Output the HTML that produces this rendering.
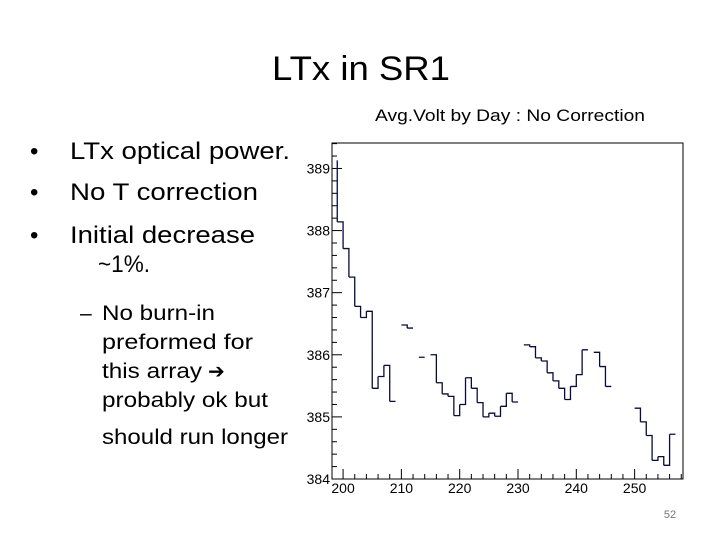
<!DOCTYPE html>
<html><head><meta charset="utf-8"><style>
html,body{margin:0;padding:0;background:#fff;}
svg{display:block;font-family:"Liberation Sans",sans-serif;}
</style></head><body>
<svg id="s" width="720" height="540" viewBox="0 0 720 540" xmlns="http://www.w3.org/2000/svg">
<text x="272" y="80" font-size="34" textLength="178" lengthAdjust="spacingAndGlyphs" fill="#000">LTx in SR1</text>
<g font-size="24" fill="#000">
<text x="30" y="159">•</text>
<text x="70" y="159" textLength="220" lengthAdjust="spacingAndGlyphs">LTx optical power.</text>
<text x="30" y="200">•</text>
<text x="70" y="200" textLength="188" lengthAdjust="spacingAndGlyphs">No T correction</text>
<text x="30" y="243">•</text>
<text x="70" y="243" textLength="185" lengthAdjust="spacingAndGlyphs">Initial decrease</text>
<text x="98" y="272" textLength="52" lengthAdjust="spacingAndGlyphs">~1%.</text>
</g>
<g font-size="21" fill="#000">
<text x="80" y="320">–</text>
<text x="102" y="320" textLength="113" lengthAdjust="spacingAndGlyphs">No burn-in</text>
<text x="102" y="349" textLength="151" lengthAdjust="spacingAndGlyphs">preformed for</text>
<text x="102" y="378"><tspan textLength="100" lengthAdjust="spacingAndGlyphs">this array</tspan><tspan font-family="DejaVu Sans" font-size="20" dx="6">➔</tspan></text>
<text x="102" y="407" textLength="166" lengthAdjust="spacingAndGlyphs">probably ok but</text>
<text x="102" y="444" textLength="186" lengthAdjust="spacingAndGlyphs">should run longer</text>
</g>
<text x="670" y="518" font-size="11" fill="#777" text-anchor="middle">52</text>
<text x="375" y="121" font-size="17" textLength="270" lengthAdjust="spacingAndGlyphs" fill="#000">Avg.Volt by Day : No Correction</text>
<g id="chart"></g>
</svg>
<script>
const days = [199,200,201,202,203,204,205,206,207,208,209,210,211,212,213,214,215,216,217,218,219,220,221,222,223,224,225,226,227,228,229,230,231,232,233,234,235,236,237,238,239,240,241,242,243,244,245,246,247,248,249,250,251,252,253,254,255,256];
const values = [388.14,387.71,387.25,386.78,386.6,386.7,385.46,385.65,385.83,385.25,null,386.48,386.43,null,385.96,null,386.0,385.55,385.37,385.33,385.02,385.2,385.63,385.46,385.23,385.0,385.06,385.01,385.17,385.38,385.24,null,386.16,386.13,385.95,385.9,385.71,385.58,385.46,385.28,385.49,385.68,386.08,null,386.04,385.81,385.49,null,null,null,null,385.14,384.92,384.70,384.30,384.36,384.22,384.72];
const startLevel = [389.13];
const yTicks = [384,385,386,387,388,389];
const xTicks = [200,210,220,230,240,250];
const NS="http://www.w3.org/2000/svg";
const L=332,R=683,T=143,B=479;
const xMin=198.1,xMax=258.3,yMin=384,yMax=389.41;
function X(d){return L+(d-xMin)/(xMax-xMin)*(R-L);}
function Y(v){return B-(v-yMin)/(yMax-yMin)*(B-T);}
const g=document.getElementById('chart');
function mk(tag,at){const e=document.createElementNS(NS,tag);for(const k in at)e.setAttribute(k,at[k]);g.appendChild(e);return e;}
const frame=mk('rect',{x:L,y:T,width:R-L,height:B-T,fill:'none',stroke:'#000','stroke-width':1});


for(let v=384;v<=389.4;v+=0.2){
  const major=Math.abs(v-Math.round(v))<0.01;
  const t=mk('line',{x1:L,x2:L+(major?10:5),y1:Y(v),y2:Y(v),stroke:'#000','stroke-width':1});
  
  
}
yTicks.forEach(v=>{
  const t=mk('text',{x:L-2,y:Y(v)+5,'font-size':14,'text-anchor':'end',fill:'#000'});
  t.textContent=v;
  
  
});
for(let d=200;d<=258;d+=2){
  const major=d%10===0;
  const t=mk('line',{x1:X(d),x2:X(d),y1:B,y2:B-(major?10:5),stroke:'#000','stroke-width':1});
  
  
}
xTicks.forEach(d=>{
  const t=mk('text',{x:X(d),y:B+14,'font-size':14,'text-anchor':'middle',fill:'#000'});
  t.textContent=d;
  
  
});
let p='';
p+='M'+X(days[0])+' '+Y(startLevel[0])+'L'+X(days[0])+' '+Y(values[0]);
for(let i=0;i<days.length;i++){
  const v=values[i]; if(v===null)continue;
  const x0=X(days[i]),x1=X(days[i]+1),y=Y(v);
  p+='M'+x0+' '+y+'L'+x1+' '+y;
  if(i+1<days.length&&values[i+1]!==null){p+='L'+x1+' '+Y(values[i+1]);}
}
const path=mk('path',{d:p,fill:'none',stroke:'#0a0a3c','stroke-width':1.3});


</script>
</body></html>
